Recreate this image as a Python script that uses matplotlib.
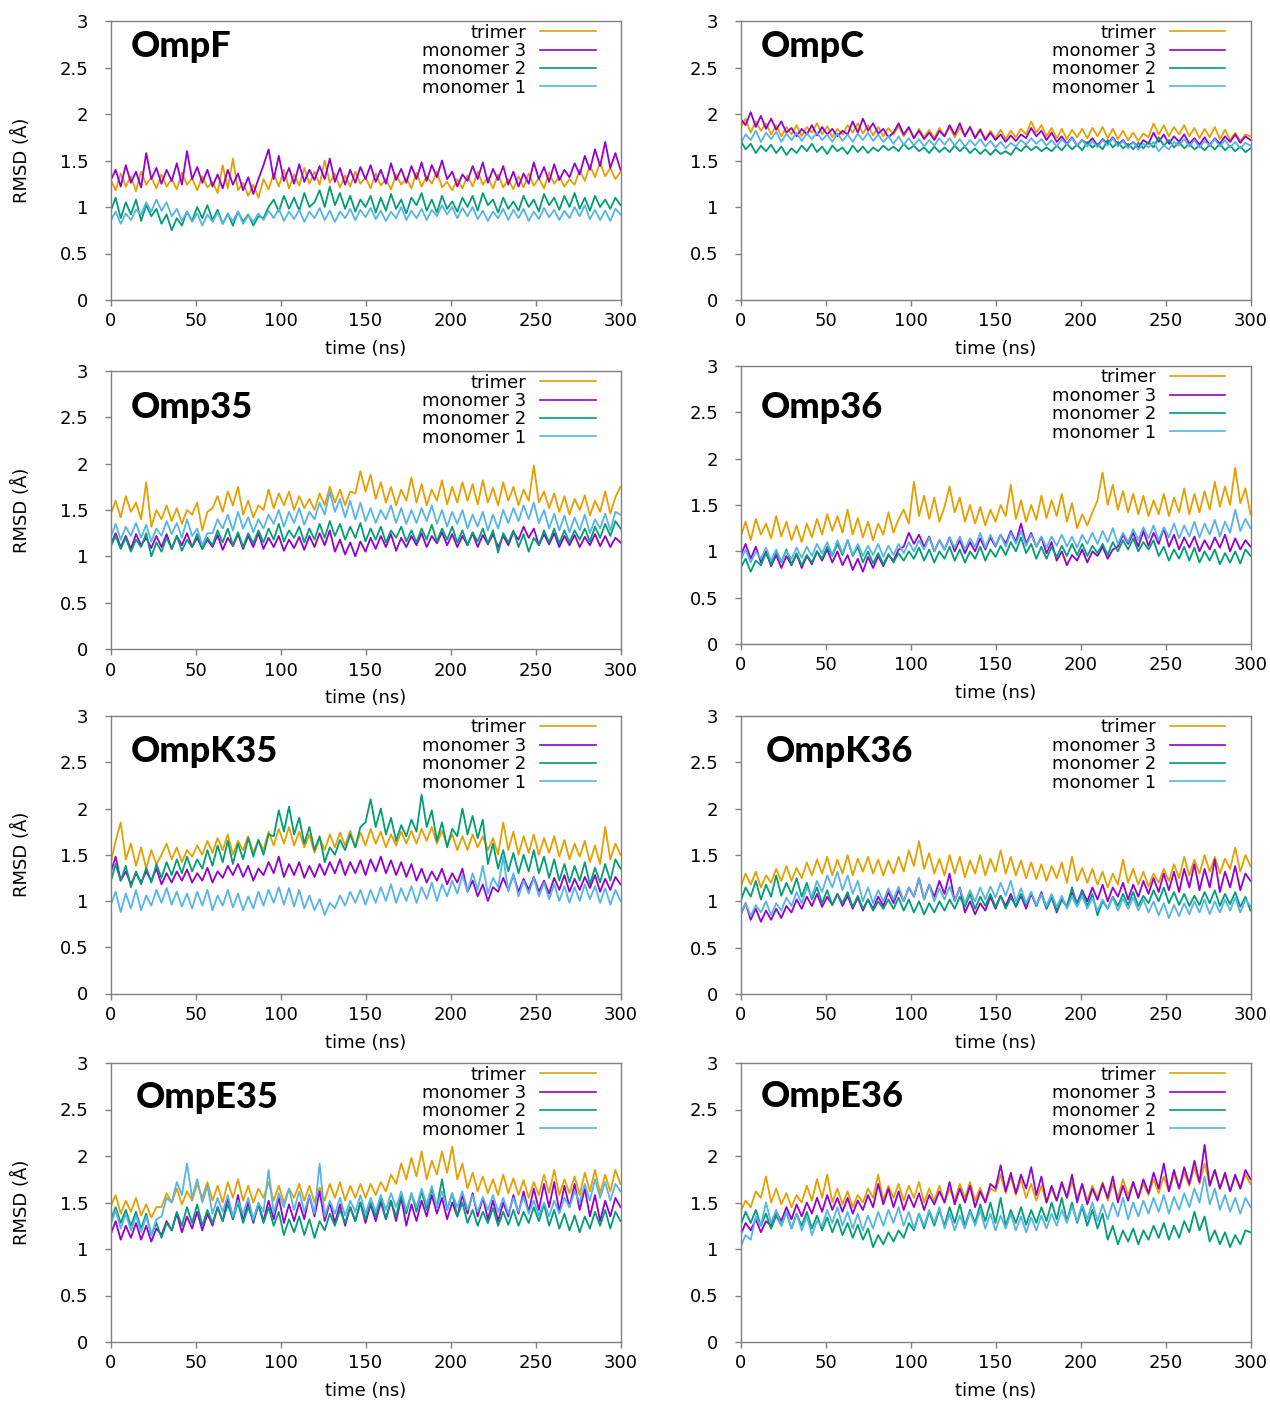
import numpy as np
import matplotlib
matplotlib.use("Agg")
from matplotlib import pyplot as plt
from matplotlib.ticker import FormatStrFormatter, MultipleLocator

time_ns = np.arange(0, 301, 3)

series_names = ["trimer", "monomer 3", "monomer 2", "monomer 1"]
series_colors = ["#e69f00", "#9400d3", "#009e73", "#56b4e9"]

ompf_trimer = [1.30, 1.18, 1.36, 1.22, 1.33, 1.17, 1.38, 1.24, 1.32, 1.20,
               1.35, 1.22, 1.30, 1.19, 1.37, 1.24, 1.31, 1.18, 1.33, 1.21,
               1.27, 1.15, 1.45, 1.20, 1.52, 1.18, 1.26, 1.12, 1.24, 1.10,
               1.30, 1.19, 1.36, 1.22, 1.40, 1.20, 1.35, 1.23, 1.42, 1.25,
               1.38, 1.24, 1.50, 1.26, 1.36, 1.21, 1.34, 1.22, 1.38, 1.25,
               1.32, 1.20, 1.36, 1.23, 1.30, 1.19, 1.35, 1.24, 1.31, 1.20,
               1.37, 1.22, 1.33, 1.25, 1.38, 1.21, 1.27, 1.18, 1.30, 1.20,
               1.34, 1.22, 1.38, 1.24, 1.32, 1.20, 1.35, 1.21, 1.30, 1.19,
               1.33, 1.21, 1.36, 1.23, 1.31, 1.20, 1.37, 1.25, 1.33, 1.22,
               1.30, 1.24, 1.40, 1.28, 1.45, 1.32, 1.48, 1.33, 1.42, 1.30,
               1.38]
ompf_m3 = [1.28, 1.40, 1.22, 1.45, 1.26, 1.38, 1.21, 1.58, 1.30, 1.42,
           1.25, 1.40, 1.28, 1.47, 1.24, 1.60, 1.30, 1.43, 1.26, 1.40,
           1.22, 1.35, 1.20, 1.40, 1.24, 1.36, 1.18, 1.32, 1.14, 1.30,
           1.45, 1.62, 1.30, 1.55, 1.28, 1.42, 1.25, 1.46, 1.27, 1.40,
           1.29, 1.44, 1.30, 1.52, 1.27, 1.42, 1.24, 1.40, 1.26, 1.43,
           1.30, 1.45, 1.27, 1.40, 1.25, 1.47, 1.29, 1.41, 1.26, 1.44,
           1.30, 1.48, 1.28, 1.45, 1.32, 1.50, 1.30, 1.38, 1.22, 1.35,
           1.28, 1.44, 1.30, 1.48, 1.26, 1.41, 1.29, 1.44, 1.24, 1.38,
           1.22, 1.36, 1.25, 1.48, 1.30, 1.43, 1.27, 1.46, 1.29, 1.40,
           1.32, 1.47, 1.35, 1.55, 1.40, 1.62, 1.44, 1.70, 1.42, 1.58,
           1.40]
ompf_m2 = [0.95, 1.10, 0.88, 1.05, 0.92, 1.08, 0.85, 1.02, 0.90, 0.98,
           0.82, 0.92, 0.75, 0.88, 0.80, 0.95, 0.85, 1.00, 0.88, 1.02,
           0.86, 0.97, 0.82, 0.93, 0.80, 0.95, 0.84, 0.92, 0.80, 0.90,
           0.88, 1.00, 1.08, 0.95, 1.12, 0.98, 1.10, 0.96, 1.15, 1.00,
           1.05, 1.18, 1.00, 1.22, 1.02, 1.15, 0.98, 1.12, 0.95, 1.08,
           1.00, 1.12, 0.94, 1.10, 0.96, 1.14, 0.98, 1.08, 0.93, 1.10,
           1.02, 1.15, 0.96, 1.08, 0.94, 1.12, 0.98, 1.06, 0.95, 1.10,
           1.00, 1.12, 0.96, 1.15, 1.02, 1.08, 0.94, 1.10, 0.98, 1.06,
           0.96, 1.12, 1.00, 1.08, 0.95, 1.14, 1.02, 1.10, 0.97, 1.12,
           1.00, 1.15, 0.98, 1.10, 0.96, 1.12, 1.00, 1.08, 0.98, 1.10,
           1.02]
ompf_m1 = [0.85, 0.95, 0.82, 0.93, 0.86, 0.97, 0.92, 1.05, 0.95, 1.08,
           0.96, 1.05, 0.90, 0.98, 0.85, 0.95, 0.84, 0.93, 0.80, 0.92,
           0.84, 0.94, 0.82, 0.92, 0.85, 0.95, 0.82, 0.91, 0.84, 0.93,
           0.86, 0.96, 0.88, 0.98, 0.85, 0.95, 0.87, 0.97, 0.84, 0.95,
           0.88, 0.99, 0.86, 0.96, 0.84, 0.95, 0.88, 0.98, 0.86, 0.97,
           0.89, 0.99, 0.87, 0.96, 0.85, 0.95, 0.88, 1.00, 0.86, 0.96,
           0.88, 0.98, 0.86, 0.97, 0.90, 1.02, 0.92, 1.00, 0.88, 0.99,
           0.90, 1.00, 0.87, 0.96, 0.85, 0.95, 0.88, 0.98, 0.86, 0.97,
           0.88, 0.98, 0.85, 0.95, 0.87, 0.99, 0.89, 0.97, 0.86, 0.96,
           0.88, 1.00, 0.90, 1.02, 0.87, 0.97, 0.86, 0.96, 0.85, 0.98,
           0.92]

ompc_trimer = [1.85, 1.95, 1.80, 1.92, 1.82, 1.90, 1.78, 1.88, 1.76, 1.86,
               1.78, 1.88, 1.76, 1.86, 1.80, 1.90, 1.78, 1.87, 1.75, 1.84,
               1.78, 1.88, 1.80, 1.90, 1.79, 1.88, 1.77, 1.86, 1.76, 1.85,
               1.78, 1.87, 1.76, 1.85, 1.74, 1.84, 1.75, 1.83, 1.74, 1.85,
               1.76, 1.86, 1.75, 1.85, 1.77, 1.86, 1.75, 1.84, 1.73, 1.82,
               1.74, 1.83, 1.73, 1.82, 1.75, 1.84, 1.78, 1.92, 1.80, 1.88,
               1.76, 1.85, 1.74, 1.84, 1.73, 1.83, 1.75, 1.84, 1.74, 1.85,
               1.76, 1.86, 1.74, 1.84, 1.73, 1.82, 1.72, 1.80, 1.71, 1.79,
               1.75, 1.90, 1.78, 1.88, 1.76, 1.86, 1.78, 1.88, 1.76, 1.85,
               1.74, 1.84, 1.75, 1.86, 1.73, 1.83, 1.72, 1.80, 1.71, 1.78,
               1.76]
ompc_m3 = [1.95, 1.88, 2.02, 1.86, 1.98, 1.84, 1.95, 1.83, 1.92, 1.80,
           1.85, 1.76, 1.84, 1.78, 1.88, 1.77, 1.86, 1.78, 1.84, 1.76,
           1.82, 1.78, 1.92, 1.80, 1.95, 1.82, 1.90, 1.79, 1.84, 1.75,
           1.80, 1.90, 1.78, 1.86, 1.74, 1.82, 1.73, 1.80, 1.72, 1.82,
           1.76, 1.88, 1.78, 1.90, 1.76, 1.86, 1.74, 1.83, 1.72, 1.80,
           1.72, 1.78, 1.70, 1.77, 1.71, 1.78, 1.74, 1.85, 1.76, 1.82,
           1.72, 1.80, 1.70, 1.76, 1.68, 1.75, 1.66, 1.72, 1.68, 1.74,
           1.66, 1.73, 1.68, 1.75, 1.67, 1.72, 1.65, 1.70, 1.64, 1.72,
           1.68, 1.80, 1.70, 1.78, 1.68, 1.76, 1.70, 1.78, 1.68, 1.74,
           1.67, 1.75, 1.66, 1.74, 1.68, 1.76, 1.70, 1.78, 1.69, 1.76,
           1.72]
ompc_m2 = [1.72, 1.62, 1.68, 1.58, 1.66, 1.60, 1.67, 1.58, 1.65, 1.56,
           1.63, 1.58, 1.66, 1.60, 1.68, 1.59, 1.65, 1.57, 1.66, 1.60,
           1.64, 1.57, 1.66, 1.59, 1.65, 1.58, 1.64, 1.60, 1.66, 1.61,
           1.65, 1.60, 1.68, 1.62, 1.66, 1.60, 1.64, 1.58, 1.65, 1.59,
           1.64, 1.59, 1.66, 1.60, 1.65, 1.58, 1.63, 1.57, 1.62, 1.56,
           1.62, 1.57, 1.60, 1.56, 1.64, 1.60, 1.66, 1.61, 1.65, 1.60,
           1.64, 1.60, 1.66, 1.61, 1.68, 1.62, 1.67, 1.61, 1.70, 1.64,
           1.68, 1.62, 1.72, 1.64, 1.70, 1.63, 1.68, 1.62, 1.69, 1.63,
           1.70, 1.64, 1.75, 1.66, 1.72, 1.64, 1.70, 1.63, 1.68, 1.62,
           1.66, 1.61, 1.67, 1.62, 1.68, 1.61, 1.66, 1.60, 1.65, 1.59,
           1.63]
ompc_m1 = [1.68, 1.78, 1.72, 1.82, 1.70, 1.80, 1.73, 1.81, 1.70, 1.79,
           1.72, 1.80, 1.71, 1.79, 1.73, 1.80, 1.72, 1.78, 1.70, 1.79,
           1.71, 1.78, 1.70, 1.79, 1.72, 1.80, 1.71, 1.78, 1.70, 1.76,
           1.68, 1.76, 1.67, 1.74, 1.66, 1.73, 1.65, 1.72, 1.66, 1.74,
           1.67, 1.74, 1.66, 1.73, 1.65, 1.72, 1.66, 1.73, 1.65, 1.71,
           1.64, 1.70, 1.63, 1.69, 1.65, 1.72, 1.67, 1.74, 1.68, 1.73,
           1.66, 1.72, 1.65, 1.73, 1.67, 1.74, 1.66, 1.72, 1.65, 1.71,
           1.64, 1.72, 1.66, 1.74, 1.65, 1.71, 1.63, 1.70, 1.62, 1.68,
           1.64, 1.70, 1.60, 1.66, 1.62, 1.70, 1.66, 1.73, 1.65, 1.72,
           1.64, 1.71, 1.66, 1.73, 1.65, 1.72, 1.64, 1.70, 1.63, 1.69,
           1.66]

omp35_trimer = [1.45, 1.60, 1.42, 1.65, 1.48, 1.58, 1.40, 1.80, 1.32, 1.50,
                1.40, 1.55, 1.38, 1.52, 1.35, 1.50, 1.45, 1.58, 1.28, 1.48,
                1.52, 1.65, 1.48, 1.70, 1.55, 1.75, 1.45, 1.60, 1.42, 1.55,
                1.50, 1.72, 1.52, 1.68, 1.55, 1.70, 1.50, 1.65, 1.52, 1.62,
                1.50, 1.68, 1.55, 1.75, 1.58, 1.72, 1.55, 1.70, 1.68, 1.92,
                1.70, 1.88, 1.62, 1.80, 1.58, 1.75, 1.55, 1.72, 1.60, 1.85,
                1.58, 1.78, 1.55, 1.72, 1.60, 1.82, 1.56, 1.75, 1.58, 1.80,
                1.60, 1.78, 1.56, 1.82, 1.58, 1.74, 1.55, 1.80, 1.60, 1.75,
                1.55, 1.72, 1.60, 1.98, 1.58, 1.70, 1.52, 1.68, 1.48, 1.65,
                1.45, 1.62, 1.50, 1.66, 1.44, 1.60, 1.48, 1.70, 1.46, 1.64,
                1.75]
omp35_m3 = [1.12, 1.25, 1.10, 1.22, 1.08, 1.24, 1.12, 1.20, 1.09, 1.22,
            1.10, 1.24, 1.08, 1.22, 1.12, 1.25, 1.10, 1.20, 1.08, 1.18,
            1.10, 1.23, 1.07, 1.20, 1.11, 1.24, 1.08, 1.22, 1.10, 1.25,
            1.08, 1.20, 1.10, 1.22, 1.06, 1.18, 1.09, 1.21, 1.07, 1.22,
            1.10, 1.25, 1.12, 1.28, 1.05, 1.18, 1.02, 1.15, 1.00, 1.16,
            1.05, 1.20, 1.08, 1.22, 1.10, 1.24, 1.06, 1.20, 1.10, 1.22,
            1.12, 1.25, 1.10, 1.22, 1.14, 1.26, 1.12, 1.24, 1.10, 1.22,
            1.12, 1.25, 1.10, 1.23, 1.13, 1.24, 1.10, 1.22, 1.12, 1.26,
            1.18, 1.32, 1.20, 1.30, 1.12, 1.24, 1.13, 1.25, 1.10, 1.22,
            1.12, 1.23, 1.10, 1.21, 1.12, 1.24, 1.11, 1.22, 1.10, 1.20,
            1.15]
omp35_m2 = [1.10, 1.22, 1.08, 1.20, 1.05, 1.18, 1.10, 1.25, 1.00, 1.15,
            1.05, 1.20, 1.08, 1.22, 1.06, 1.18, 1.10, 1.24, 1.08, 1.20,
            1.12, 1.28, 1.15, 1.30, 1.12, 1.26, 1.10, 1.25, 1.14, 1.28,
            1.15, 1.30, 1.18, 1.35, 1.16, 1.28, 1.20, 1.32, 1.15, 1.30,
            1.18, 1.35, 1.20, 1.38, 1.22, 1.35, 1.18, 1.32, 1.20, 1.36,
            1.16, 1.30, 1.18, 1.32, 1.15, 1.28, 1.20, 1.32, 1.16, 1.28,
            1.15, 1.30, 1.18, 1.34, 1.16, 1.30, 1.18, 1.32, 1.15, 1.28,
            1.12, 1.26, 1.16, 1.30, 1.14, 1.28, 1.04, 1.25, 1.15, 1.28,
            1.10, 1.24, 1.05, 1.20, 1.12, 1.28, 1.15, 1.30, 1.14, 1.28,
            1.15, 1.28, 1.18, 1.30, 1.16, 1.32, 1.20, 1.35, 1.22, 1.38,
            1.30]
omp35_m1 = [1.20, 1.35, 1.18, 1.32, 1.22, 1.36, 1.20, 1.34, 1.16, 1.30,
            1.22, 1.38, 1.24, 1.36, 1.20, 1.40, 1.22, 1.30, 1.12, 1.25,
            1.25, 1.40, 1.30, 1.45, 1.28, 1.48, 1.30, 1.42, 1.26, 1.40,
            1.30, 1.45, 1.35, 1.50, 1.32, 1.48, 1.36, 1.52, 1.34, 1.48,
            1.40, 1.58, 1.45, 1.70, 1.48, 1.62, 1.42, 1.60, 1.40, 1.58,
            1.38, 1.52, 1.36, 1.50, 1.40, 1.55, 1.36, 1.52, 1.35, 1.50,
            1.36, 1.52, 1.38, 1.55, 1.35, 1.50, 1.32, 1.48, 1.35, 1.50,
            1.30, 1.45, 1.32, 1.48, 1.28, 1.45, 1.30, 1.50, 1.36, 1.52,
            1.38, 1.55, 1.40, 1.58, 1.36, 1.50, 1.30, 1.46, 1.28, 1.44,
            1.26, 1.42, 1.28, 1.45, 1.25, 1.40, 1.30, 1.46, 1.28, 1.48,
            1.45]

omp36_trimer = [1.15, 1.32, 1.12, 1.35, 1.18, 1.30, 1.14, 1.38, 1.16, 1.32,
                1.12, 1.28, 1.10, 1.30, 1.15, 1.35, 1.18, 1.40, 1.22, 1.38,
                1.20, 1.45, 1.18, 1.36, 1.15, 1.32, 1.12, 1.30, 1.18, 1.42,
                1.20, 1.35, 1.45, 1.30, 1.75, 1.38, 1.60, 1.35, 1.58, 1.32,
                1.48, 1.70, 1.42, 1.58, 1.32, 1.50, 1.30, 1.48, 1.28, 1.45,
                1.32, 1.50, 1.38, 1.72, 1.35, 1.55, 1.32, 1.50, 1.34, 1.60,
                1.36, 1.55, 1.38, 1.62, 1.32, 1.52, 1.25, 1.40, 1.28, 1.42,
                1.55, 1.85, 1.50, 1.72, 1.45, 1.65, 1.42, 1.62, 1.40, 1.60,
                1.38, 1.55, 1.40, 1.62, 1.38, 1.58, 1.42, 1.68, 1.40, 1.62,
                1.42, 1.65, 1.45, 1.75, 1.48, 1.70, 1.50, 1.90, 1.52, 1.68,
                1.40]
omp36_m3 = [0.95, 1.08, 0.92, 1.05, 0.88, 1.00, 0.84, 0.96, 0.82, 0.95,
            0.85, 0.97, 0.82, 0.95, 0.86, 1.00, 0.90, 1.02, 0.88, 1.00,
            0.85, 0.96, 0.80, 0.92, 0.78, 0.94, 0.82, 0.95, 0.84, 0.96,
            0.90, 1.02, 1.05, 1.20, 1.08, 1.18, 1.05, 1.16, 1.00, 1.12,
            1.02, 1.15, 1.00, 1.12, 0.98, 1.10, 1.00, 1.14, 1.02, 1.15,
            1.05, 1.18, 1.08, 1.22, 1.10, 1.30, 1.08, 1.20, 1.05, 1.15,
            0.98, 1.10, 0.90, 1.00, 0.85, 0.96, 0.90, 1.02, 0.88, 1.00,
            0.95, 1.05, 0.92, 1.02, 1.05, 1.18, 1.08, 1.20, 1.05, 1.22,
            1.06, 1.20, 1.08, 1.25, 1.05, 1.18, 1.02, 1.15, 1.04, 1.16,
            1.00, 1.12, 1.02, 1.15, 1.04, 1.18, 1.00, 1.14, 1.02, 1.12,
            1.05]
omp36_m2 = [0.82, 0.92, 0.78, 0.90, 0.85, 0.98, 0.86, 1.00, 0.88, 1.02,
            0.86, 0.98, 0.85, 0.96, 0.88, 1.00, 0.92, 1.05, 0.95, 1.08,
            0.96, 1.12, 0.95, 1.05, 0.88, 1.00, 0.87, 0.98, 0.86, 0.97,
            0.88, 0.98, 0.90, 1.00, 0.92, 1.04, 0.90, 1.02, 0.88, 1.00,
            0.92, 1.05, 0.90, 1.02, 0.88, 1.00, 0.92, 1.05, 0.90, 1.02,
            0.94, 1.06, 0.96, 1.10, 1.00, 1.15, 0.98, 1.08, 0.92, 1.05,
            0.92, 1.05, 0.94, 1.06, 0.95, 1.08, 0.96, 1.08, 0.95, 1.06,
            0.98, 1.08, 0.96, 1.10, 1.00, 1.12, 1.02, 1.14, 1.00, 1.10,
            1.02, 1.12, 0.95, 1.05, 0.90, 1.02, 0.92, 1.05, 0.90, 1.04,
            0.88, 1.00, 0.90, 1.02, 0.86, 0.98, 0.88, 1.00, 0.87, 1.02,
            0.95]
omp36_m1 = [0.90, 1.02, 0.88, 1.00, 0.92, 1.04, 0.90, 1.02, 0.89, 1.00,
            0.92, 1.04, 0.93, 1.05, 0.95, 1.08, 0.98, 1.10, 0.96, 1.12,
            0.98, 1.12, 0.96, 1.08, 0.95, 1.06, 0.96, 1.08, 0.94, 1.06,
            0.96, 1.08, 0.98, 1.10, 1.00, 1.12, 1.02, 1.15, 1.00, 1.12,
            1.02, 1.15, 1.04, 1.16, 1.02, 1.14, 1.05, 1.20, 1.04, 1.18,
            1.06, 1.18, 1.05, 1.20, 1.08, 1.22, 1.06, 1.18, 1.05, 1.16,
            1.04, 1.16, 1.06, 1.18, 1.05, 1.16, 1.04, 1.18, 1.08, 1.20,
            1.08, 1.22, 1.10, 1.25, 1.08, 1.20, 1.10, 1.24, 1.12, 1.26,
            1.14, 1.28, 1.12, 1.26, 1.15, 1.30, 1.14, 1.28, 1.16, 1.32,
            1.15, 1.30, 1.18, 1.34, 1.16, 1.32, 1.20, 1.45, 1.22, 1.35,
            1.25]

ompk35_trimer = [1.40, 1.65, 1.85, 1.45, 1.62, 1.38, 1.58, 1.35, 1.55, 1.40,
                 1.50, 1.62, 1.45, 1.58, 1.42, 1.55, 1.48, 1.60, 1.50, 1.65,
                 1.52, 1.68, 1.55, 1.72, 1.50, 1.65, 1.55, 1.70, 1.52, 1.66,
                 1.55, 1.75, 1.60, 1.78, 1.62, 1.80, 1.60, 1.75, 1.58, 1.72,
                 1.52, 1.68, 1.55, 1.72, 1.58, 1.74, 1.60, 1.76, 1.58, 1.74,
                 1.60, 1.78, 1.62, 1.75, 1.58, 1.72, 1.60, 1.75, 1.62, 1.76,
                 1.62, 1.78, 1.65, 1.80, 1.62, 1.76, 1.60, 1.72, 1.55, 1.70,
                 1.55, 1.72, 1.58, 1.70, 1.55, 1.68, 1.50, 1.85, 1.55, 1.75,
                 1.50, 1.70, 1.52, 1.72, 1.50, 1.68, 1.52, 1.70, 1.48, 1.66,
                 1.45, 1.62, 1.48, 1.65, 1.42, 1.60, 1.40, 1.80, 1.45, 1.62,
                 1.50]
ompk35_m3 = [1.30, 1.48, 1.22, 1.32, 1.18, 1.30, 1.20, 1.32, 1.22, 1.35,
             1.18, 1.30, 1.20, 1.32, 1.22, 1.34, 1.20, 1.30, 1.22, 1.36,
             1.20, 1.32, 1.25, 1.38, 1.28, 1.40, 1.26, 1.38, 1.22, 1.35,
             1.28, 1.42, 1.30, 1.48, 1.26, 1.40, 1.28, 1.42, 1.25, 1.38,
             1.26, 1.40, 1.28, 1.42, 1.30, 1.45, 1.28, 1.42, 1.30, 1.44,
             1.28, 1.45, 1.32, 1.48, 1.30, 1.44, 1.28, 1.42, 1.26, 1.40,
             1.22, 1.35, 1.20, 1.32, 1.22, 1.35, 1.18, 1.30, 1.20, 1.35,
             1.10, 1.22, 1.05, 1.18, 1.00, 1.15, 1.10, 1.25, 1.12, 1.28,
             1.10, 1.24, 1.12, 1.26, 1.10, 1.22, 1.08, 1.25, 1.12, 1.28,
             1.10, 1.24, 1.12, 1.26, 1.14, 1.28, 1.10, 1.24, 1.12, 1.26,
             1.18]
ompk35_m2 = [1.20, 1.40, 1.22, 1.38, 1.15, 1.32, 1.18, 1.36, 1.20, 1.40,
             1.25, 1.42, 1.28, 1.45, 1.30, 1.48, 1.32, 1.45, 1.35, 1.55,
             1.38, 1.60, 1.42, 1.65, 1.40, 1.62, 1.45, 1.68, 1.48, 1.66,
             1.50, 1.72, 1.70, 1.98, 1.75, 2.02, 1.72, 1.90, 1.62, 1.80,
             1.55, 1.70, 1.42, 1.58, 1.50, 1.66, 1.55, 1.72, 1.58, 1.80,
             1.85, 2.10, 1.80, 2.00, 1.72, 1.90, 1.65, 1.82, 1.70, 1.88,
             1.75, 2.15, 1.80, 1.98, 1.65, 1.85, 1.58, 1.78, 1.70, 2.00,
             1.72, 1.92, 1.68, 1.88, 1.40, 1.62, 1.35, 1.55, 1.32, 1.52,
             1.30, 1.50, 1.32, 1.55, 1.30, 1.48, 1.25, 1.45, 1.22, 1.40,
             1.20, 1.38, 1.22, 1.42, 1.18, 1.36, 1.20, 1.40, 1.22, 1.45,
             1.35]
ompk35_m1 = [0.95, 1.10, 0.88, 1.08, 0.92, 1.12, 0.90, 1.06, 0.95, 1.12,
             0.98, 1.14, 0.96, 1.10, 0.94, 1.08, 0.92, 1.10, 0.95, 1.12,
             0.90, 1.06, 0.95, 1.12, 0.93, 1.08, 0.90, 1.05, 0.92, 1.10,
             0.95, 1.12, 0.98, 1.15, 0.96, 1.14, 0.94, 1.12, 0.92, 1.06,
             0.90, 1.02, 0.85, 0.98, 0.92, 1.06, 0.95, 1.10, 0.98, 1.12,
             0.96, 1.12, 0.98, 1.15, 1.00, 1.18, 0.98, 1.14, 1.00, 1.16,
             0.98, 1.15, 1.02, 1.20, 1.00, 1.18, 1.05, 1.22, 1.08, 1.28,
             1.10, 1.30, 1.12, 1.38, 1.08, 1.25, 1.15, 1.48, 1.10, 1.30,
             1.05, 1.22, 1.08, 1.25, 1.05, 1.20, 1.02, 1.18, 1.00, 1.16,
             0.98, 1.15, 1.00, 1.18, 1.02, 1.16, 0.98, 1.14, 0.96, 1.12,
             1.00]

ompk36_trimer = [1.15, 1.30, 1.18, 1.32, 1.15, 1.28, 1.20, 1.35, 1.22, 1.38,
                 1.22, 1.36, 1.25, 1.42, 1.28, 1.45, 1.30, 1.48, 1.28, 1.45,
                 1.30, 1.50, 1.28, 1.46, 1.32, 1.48, 1.30, 1.45, 1.28, 1.44,
                 1.30, 1.48, 1.32, 1.55, 1.38, 1.65, 1.35, 1.52, 1.30, 1.46,
                 1.28, 1.50, 1.30, 1.48, 1.26, 1.44, 1.30, 1.50, 1.28, 1.46,
                 1.32, 1.55, 1.30, 1.48, 1.28, 1.44, 1.25, 1.42, 1.24, 1.40,
                 1.22, 1.38, 1.25, 1.42, 1.20, 1.48, 1.22, 1.36, 1.20, 1.35,
                 1.18, 1.32, 1.15, 1.30, 1.18, 1.45, 1.20, 1.35, 1.18, 1.32,
                 1.16, 1.30, 1.20, 1.35, 1.22, 1.40, 1.25, 1.48, 1.28, 1.45,
                 1.30, 1.50, 1.32, 1.48, 1.30, 1.46, 1.35, 1.58, 1.32, 1.50,
                 1.38]
ompk36_m3 = [0.85, 0.98, 0.80, 0.92, 0.78, 0.90, 0.80, 0.92, 0.82, 0.95,
             0.88, 1.02, 0.92, 1.05, 0.95, 1.08, 0.94, 1.05, 0.96, 1.08,
             0.95, 1.06, 0.92, 1.04, 0.90, 1.02, 0.92, 1.05, 0.95, 1.10,
             0.98, 1.12, 1.00, 1.15, 1.05, 1.25, 1.02, 1.18, 1.05, 1.22,
             1.08, 1.30, 1.00, 1.15, 0.88, 1.00, 0.86, 0.98, 0.90, 1.05,
             0.92, 1.06, 0.95, 1.08, 0.94, 1.06, 0.92, 1.08, 0.95, 1.10,
             0.92, 1.05, 0.88, 1.02, 0.95, 1.10, 0.98, 1.12, 1.00, 1.15,
             1.02, 1.18, 1.00, 1.15, 1.05, 1.20, 1.02, 1.18, 1.05, 1.22,
             1.08, 1.25, 1.10, 1.30, 1.12, 1.32, 1.10, 1.35, 1.15, 1.40,
             1.12, 1.35, 1.15, 1.45, 1.10, 1.32, 1.15, 1.38, 1.12, 1.30,
             1.22]
ompk36_m2 = [1.00, 1.15, 1.05, 1.22, 1.02, 1.18, 1.05, 1.28, 1.06, 1.20,
             1.08, 1.25, 1.05, 1.20, 1.02, 1.15, 0.98, 1.12, 0.96, 1.08,
             0.98, 1.10, 0.94, 1.06, 0.92, 1.02, 0.90, 1.00, 0.92, 1.02,
             0.92, 1.04, 0.90, 1.02, 0.88, 1.00, 0.86, 0.98, 0.88, 1.00,
             0.90, 1.02, 0.92, 1.05, 0.94, 1.08, 0.92, 1.05, 0.95, 1.08,
             0.94, 1.06, 0.92, 1.04, 0.95, 1.08, 0.96, 1.10, 0.95, 1.08,
             0.92, 1.05, 0.90, 1.02, 0.94, 1.15, 0.96, 1.10, 0.95, 1.08,
             0.85, 1.00, 0.92, 1.05, 0.95, 1.08, 0.96, 1.10, 0.95, 1.06,
             0.98, 1.12, 1.00, 1.15, 0.98, 1.10, 0.96, 1.08, 0.95, 1.06,
             0.96, 1.10, 0.98, 1.12, 0.95, 1.08, 0.97, 1.10, 0.94, 1.05,
             0.90]
ompk36_m1 = [0.86, 0.98, 0.84, 0.96, 0.88, 1.00, 0.85, 0.98, 0.90, 1.04,
             0.95, 1.10, 0.98, 1.15, 1.05, 1.22, 1.10, 1.28, 1.15, 1.32,
             1.12, 1.28, 1.08, 1.22, 1.00, 1.15, 0.98, 1.12, 1.00, 1.14,
             1.02, 1.16, 1.00, 1.15, 1.05, 1.25, 1.02, 1.18, 1.00, 1.14,
             1.02, 1.16, 1.00, 1.14, 0.98, 1.12, 1.00, 1.15, 1.02, 1.16,
             1.04, 1.20, 1.06, 1.22, 1.00, 1.14, 0.98, 1.10, 0.96, 1.08,
             0.95, 1.08, 0.94, 1.06, 0.92, 1.05, 0.94, 1.06, 0.92, 1.04,
             0.90, 1.02, 0.92, 1.04, 0.90, 1.03, 0.92, 1.04, 0.90, 1.02,
             0.88, 1.00, 0.85, 0.98, 0.82, 0.96, 0.84, 0.98, 0.86, 1.00,
             0.88, 1.02, 0.86, 1.00, 0.88, 1.02, 0.90, 1.04, 0.88, 1.02,
             0.95]

ompe35_trimer = [1.45, 1.58, 1.38, 1.52, 1.40, 1.55, 1.36, 1.48, 1.34, 1.45,
                 1.45, 1.60, 1.50, 1.65, 1.48, 1.62, 1.52, 1.70, 1.55, 1.72,
                 1.52, 1.68, 1.50, 1.72, 1.55, 1.75, 1.52, 1.68, 1.50, 1.65,
                 1.55, 1.72, 1.52, 1.68, 1.50, 1.65, 1.55, 1.70, 1.52, 1.68,
                 1.50, 1.66, 1.52, 1.70, 1.55, 1.72, 1.52, 1.68, 1.55, 1.70,
                 1.55, 1.70, 1.58, 1.72, 1.62, 1.80, 1.70, 1.92, 1.75, 1.98,
                 1.78, 2.05, 1.75, 1.95, 1.80, 2.05, 1.82, 2.10, 1.75, 1.92,
                 1.65, 1.82, 1.62, 1.78, 1.60, 1.75, 1.58, 1.80, 1.60, 1.76,
                 1.58, 1.74, 1.55, 1.72, 1.58, 1.80, 1.60, 1.85, 1.58, 1.75,
                 1.60, 1.78, 1.58, 1.82, 1.62, 1.85, 1.60, 1.80, 1.62, 1.85,
                 1.70]
ompe35_m3 = [1.15, 1.30, 1.10, 1.25, 1.12, 1.28, 1.10, 1.25, 1.08, 1.22,
             1.15, 1.30, 1.20, 1.38, 1.18, 1.35, 1.22, 1.40, 1.20, 1.38,
             1.25, 1.45, 1.30, 1.55, 1.32, 1.58, 1.30, 1.50, 1.28, 1.48,
             1.30, 1.52, 1.32, 1.55, 1.28, 1.48, 1.30, 1.50, 1.32, 1.58,
             1.35, 1.62, 1.30, 1.50, 1.28, 1.48, 1.25, 1.45, 1.30, 1.50,
             1.28, 1.48, 1.30, 1.50, 1.32, 1.52, 1.30, 1.55, 1.25, 1.48,
             1.30, 1.52, 1.35, 1.58, 1.38, 1.55, 1.32, 1.50, 1.35, 1.58,
             1.38, 1.60, 1.35, 1.55, 1.32, 1.52, 1.30, 1.50, 1.35, 1.58,
             1.38, 1.62, 1.40, 1.65, 1.42, 1.70, 1.45, 1.72, 1.40, 1.68,
             1.45, 1.70, 1.42, 1.65, 1.35, 1.58, 1.30, 1.52, 1.35, 1.55,
             1.45]
ompe35_m2 = [1.30, 1.45, 1.28, 1.42, 1.25, 1.40, 1.22, 1.38, 1.15, 1.28,
             1.12, 1.28, 1.20, 1.40, 1.25, 1.45, 1.28, 1.48, 1.25, 1.42,
             1.28, 1.45, 1.30, 1.48, 1.32, 1.50, 1.28, 1.45, 1.30, 1.48,
             1.28, 1.45, 1.25, 1.40, 1.15, 1.32, 1.18, 1.35, 1.15, 1.32,
             1.12, 1.30, 1.20, 1.38, 1.25, 1.42, 1.28, 1.45, 1.30, 1.50,
             1.32, 1.50, 1.35, 1.55, 1.32, 1.52, 1.35, 1.58, 1.38, 1.60,
             1.40, 1.62, 1.42, 1.65, 1.45, 1.75, 1.42, 1.60, 1.35, 1.50,
             1.28, 1.42, 1.25, 1.40, 1.28, 1.44, 1.25, 1.40, 1.26, 1.42,
             1.25, 1.40, 1.28, 1.45, 1.30, 1.48, 1.25, 1.42, 1.22, 1.38,
             1.20, 1.36, 1.18, 1.35, 1.22, 1.40, 1.25, 1.42, 1.22, 1.40,
             1.30]
ompe35_m1 = [1.25, 1.42, 1.22, 1.38, 1.20, 1.36, 1.18, 1.35, 1.15, 1.32,
             1.35, 1.55, 1.50, 1.72, 1.58, 1.92, 1.55, 1.75, 1.50, 1.68,
             1.38, 1.55, 1.40, 1.58, 1.35, 1.52, 1.38, 1.55, 1.32, 1.50,
             1.40, 1.85, 1.38, 1.60, 1.45, 1.65, 1.42, 1.62, 1.40, 1.58,
             1.38, 1.92, 1.35, 1.52, 1.38, 1.55, 1.36, 1.52, 1.40, 1.58,
             1.38, 1.55, 1.40, 1.58, 1.42, 1.60, 1.45, 1.62, 1.42, 1.60,
             1.45, 1.65, 1.48, 1.68, 1.45, 1.62, 1.42, 1.60, 1.45, 1.62,
             1.42, 1.58, 1.40, 1.56, 1.42, 1.58, 1.40, 1.55, 1.38, 1.55,
             1.40, 1.56, 1.38, 1.52, 1.36, 1.50, 1.35, 1.52, 1.38, 1.55,
             1.45, 1.62, 1.50, 1.70, 1.52, 1.75, 1.55, 1.72, 1.52, 1.70,
             1.62]

ompe36_trimer = [1.40, 1.52, 1.45, 1.62, 1.55, 1.78, 1.50, 1.65, 1.48, 1.60,
                 1.45, 1.58, 1.50, 1.68, 1.52, 1.75, 1.55, 1.80, 1.50, 1.65,
                 1.48, 1.62, 1.45, 1.58, 1.50, 1.65, 1.55, 1.80, 1.52, 1.68,
                 1.55, 1.70, 1.52, 1.68, 1.55, 1.72, 1.50, 1.65, 1.52, 1.68,
                 1.50, 1.65, 1.52, 1.70, 1.55, 1.72, 1.52, 1.66, 1.50, 1.65,
                 1.62, 1.80, 1.60, 1.78, 1.58, 1.75, 1.55, 1.70, 1.52, 1.68,
                 1.50, 1.65, 1.52, 1.70, 1.55, 1.72, 1.55, 1.70, 1.52, 1.68,
                 1.55, 1.72, 1.52, 1.70, 1.55, 1.75, 1.58, 1.72, 1.55, 1.70,
                 1.58, 1.75, 1.60, 1.78, 1.62, 1.80, 1.65, 1.82, 1.68, 1.88,
                 1.70, 1.92, 1.68, 1.85, 1.65, 1.80, 1.62, 1.78, 1.65, 1.80,
                 1.70]
ompe36_m3 = [1.15, 1.28, 1.20, 1.32, 1.18, 1.30, 1.25, 1.40, 1.30, 1.45,
             1.32, 1.48, 1.35, 1.50, 1.38, 1.55, 1.40, 1.58, 1.42, 1.55,
             1.40, 1.55, 1.38, 1.52, 1.42, 1.58, 1.45, 1.70, 1.48, 1.65,
             1.45, 1.62, 1.42, 1.58, 1.45, 1.60, 1.42, 1.58, 1.48, 1.62,
             1.50, 1.72, 1.48, 1.65, 1.50, 1.68, 1.45, 1.62, 1.50, 1.70,
             1.65, 1.90, 1.62, 1.82, 1.60, 1.80, 1.65, 1.88, 1.58, 1.78,
             1.50, 1.68, 1.52, 1.72, 1.55, 1.80, 1.50, 1.70, 1.48, 1.65,
             1.52, 1.70, 1.55, 1.78, 1.50, 1.68, 1.52, 1.72, 1.55, 1.75,
             1.60, 1.82, 1.65, 1.92, 1.62, 1.85, 1.65, 1.88, 1.70, 1.95,
             1.72, 2.12, 1.68, 1.85, 1.65, 1.82, 1.62, 1.80, 1.65, 1.85,
             1.75]
ompe36_m2 = [1.25, 1.40, 1.28, 1.42, 1.25, 1.38, 1.22, 1.36, 1.25, 1.40,
             1.22, 1.38, 1.25, 1.40, 1.22, 1.36, 1.20, 1.34, 1.18, 1.32,
             1.15, 1.28, 1.12, 1.26, 1.10, 1.22, 1.02, 1.15, 1.05, 1.18,
             1.08, 1.20, 1.12, 1.28, 1.20, 1.38, 1.22, 1.40, 1.25, 1.42,
             1.25, 1.45, 1.28, 1.48, 1.25, 1.42, 1.28, 1.48, 1.30, 1.50,
             1.28, 1.55, 1.25, 1.42, 1.28, 1.45, 1.26, 1.42, 1.28, 1.45,
             1.30, 1.50, 1.32, 1.55, 1.30, 1.50, 1.28, 1.45, 1.25, 1.42,
             1.22, 1.38, 1.10, 1.25, 1.05, 1.20, 1.08, 1.22, 1.05, 1.20,
             1.10, 1.25, 1.12, 1.28, 1.10, 1.25, 1.12, 1.30, 1.18, 1.40,
             1.20, 1.35, 1.08, 1.20, 1.05, 1.18, 1.02, 1.15, 1.05, 1.20,
             1.18]
ompe36_m1 = [1.02, 1.15, 1.10, 1.35, 1.25, 1.50, 1.28, 1.42, 1.25, 1.40,
             1.22, 1.38, 1.20, 1.35, 1.15, 1.30, 1.25, 1.42, 1.28, 1.45,
             1.25, 1.40, 1.22, 1.38, 1.20, 1.36, 1.22, 1.40, 1.25, 1.42,
             1.28, 1.45, 1.25, 1.40, 1.22, 1.38, 1.25, 1.42, 1.28, 1.45,
             1.22, 1.38, 1.20, 1.36, 1.22, 1.40, 1.25, 1.42, 1.22, 1.38,
             1.20, 1.36, 1.22, 1.38, 1.20, 1.35, 1.18, 1.34, 1.20, 1.36,
             1.22, 1.38, 1.25, 1.42, 1.28, 1.46, 1.30, 1.48, 1.32, 1.50,
             1.30, 1.48, 1.32, 1.50, 1.35, 1.55, 1.32, 1.50, 1.35, 1.52,
             1.38, 1.55, 1.40, 1.58, 1.38, 1.56, 1.42, 1.60, 1.45, 1.65,
             1.50, 1.78, 1.48, 1.65, 1.42, 1.58, 1.40, 1.55, 1.38, 1.55,
             1.45]

panels = [
    ("OmpF", [ompf_trimer, ompf_m3, ompf_m2, ompf_m1]),
    ("OmpC", [ompc_trimer, ompc_m3, ompc_m2, ompc_m1]),
    ("Omp35", [omp35_trimer, omp35_m3, omp35_m2, omp35_m1]),
    ("Omp36", [omp36_trimer, omp36_m3, omp36_m2, omp36_m1]),
    ("OmpK35", [ompk35_trimer, ompk35_m3, ompk35_m2, ompk35_m1]),
    ("OmpK36", [ompk36_trimer, ompk36_m3, ompk36_m2, ompk36_m1]),
    ("OmpE35", [ompe35_trimer, ompe35_m3, ompe35_m2, ompe35_m1]),
    ("OmpE36", [ompe36_trimer, ompe36_m3, ompe36_m2, ompe36_m1]),
]

# layout in pixels: (axes left, axes top, axes bottom), title (dx, baseline dy)
W, H, AW = 1270, 1401, 510
boxes = [(110.5, 21, 300), (740.5, 21, 300),
         (110.5, 371, 649), (740.5, 366, 644),
         (110.5, 716, 993.5), (740.5, 716, 994),
         (110.5, 1063, 1342), (740.5, 1063, 1342)]
title_off = [(20, 36), (20, 36), (20, 47), (20, 52),
             (20, 46), (25, 46), (25, 45), (20, 44)]

frame = "#808080"
fs = 13

fig = plt.figure(figsize=(W / 100, H / 100), dpi=100)

for i, (name, data) in enumerate(panels):
    x0, top, bot = boxes[i]
    ah = bot - top
    ax = fig.add_axes([x0 / W, 1 - bot / H, AW / W, ah / H])
    for vals, lab, col in zip(data, series_names, series_colors):
        ax.plot(time_ns, vals, color=col, lw=1.3, label=lab)
    ax.set_xlim(0, 300)
    ax.set_ylim(0, 3)
    ax.xaxis.set_major_locator(MultipleLocator(50))
    ax.yaxis.set_major_locator(MultipleLocator(0.5))
    ax.yaxis.set_major_formatter(FormatStrFormatter("%g"))
    for sp in ax.spines.values():
        sp.set_color(frame)
        sp.set_linewidth(1.0)
    ax.tick_params(direction="out", length=4, width=1, color=frame,
                   labelsize=fs, top=False, right=False)
    ax.tick_params(axis="x", pad=5)
    ax.tick_params(axis="y", pad=12)
    ax.set_xlabel("time (ns)", fontsize=fs)
    ax.xaxis.set_label_coords(0.5, -40 / ah)
    if i % 2 == 0:
        ax.set_ylabel("RMSD (Å)", fontsize=fs)
        ax.yaxis.set_label_coords(-79 / AW, 0.5)

    leg = ax.legend(loc="upper right", bbox_to_anchor=(1 - 25 / AW, 1 - 2.5 / ah),
                    frameon=False, markerfirst=False, fontsize=fs,
                    handlelength=3.05, handletextpad=0.8, labelspacing=0.02,
                    borderpad=0, borderaxespad=0)
    for h in leg.get_lines():
        h.set_linewidth(1.2)

    dx, dy = title_off[i]
    ax.text(dx / AW, 1 - dy / ah, name, transform=ax.transAxes, va="baseline",
            ha="left", fontsize=26, fontweight="black", family=["Lato", "DejaVu Sans"])

fig.savefig("out.png", dpi=100)
